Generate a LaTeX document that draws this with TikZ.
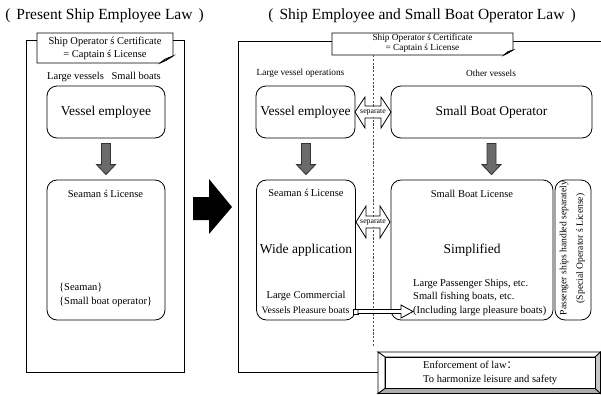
\documentclass[tikz,border=0pt]{standalone}
\usepackage{fontspec}
\setmainfont{Liberation Serif}
\newfontfamily\cjk{Noto Sans CJK SC}
\usetikzlibrary{calc}
\begin{document}
\begin{tikzpicture}[x=1pt,y=-1pt,
  frame/.style={draw, line width=0.8pt},
  box/.style={draw, rounded corners=10pt, line width=0.8pt, inner sep=0},
  note/.style={draw, fill=white, line width=0.8pt},
  txt/.style={inner sep=0, font=\fontsize{10.5}{12.6}\selectfont},
  small/.style={inner sep=0, font=\fontsize{9.3}{11}\selectfont},
  big/.style={inner sep=0, font=\fontsize{13.5}{16}\selectfont},
  ttl/.style={inner sep=0, font=\fontsize{15.5}{18}\selectfont},
  garrow/.style={draw=black!80, fill=black!58, line width=0.8pt},
  sep/.style={draw, fill=white, line width=0.8pt},
  septxt/.style={inner sep=0.3pt, fill=white, minimum height=10.5pt, font=\fontsize{7.8}{8}\selectfont},
  dots/.style={draw=black!70, line width=1.3pt, dash pattern=on 2.2pt off 1.6pt}]
\useasboundingbox (0,0) rectangle (601,394);

% titles
\node[ttl] (t1) at (104.5,16) {(\hspace{6pt}Present Ship Employee Law\hspace{6pt})};
\node[ttl] (t2) at (422,16) {(\hspace{6pt}Ship Employee and Small Boat Operator Law\hspace{6pt})};

% frames
\draw[frame] (26,40) rectangle (184,372);
\draw[frame] (605,41) -- (238,41) -- (238,372) -- (378,372);

% left note
\draw[note] (37,33) -- (173,33) -- (173,56) -- (160,63) -- (37,63) -- cycle;
\draw[line width=0.7pt] (160,63) -- (165,59) -- (173,56) -- (166,60.5) -- cycle;
\node[txt] (n1a) at (105,42) {Ship Operator ś Certificate};
\node[txt] (n1b) at (105,55) {= Captain ś License};

% right note
\draw[note] (332,33) -- (513,33) -- (513,50) -- (504,55) -- (332,55) -- cycle;
\draw[line width=0.7pt] (504,55) -- (508,51.5) -- (513,50) -- (508,53) -- cycle;
\node[small] (n2a) at (422.5,38.5) {Ship Operator ś Certificate};
\node[small] (n2b) at (422.5,48.5) {= Captain ś License};

% left column
\node[txt] (lv) at (104,77) {Large vessels\hspace{5pt} Small boats};
\node[box, minimum width=118, minimum height=52] (ve1) at (106,112) {};
\node[big] (ve1t) at (106,112) {Vessel employee};
\node[box, minimum width=118, minimum height=140] (sl1) at (106,250) {};
\node[txt] (sl1t) at (105.5,194) {Seaman ś License};
\node[txt, anchor=west] (sl1a) at (59,288) {\{Seaman\}};
\node[txt, anchor=west] (sl1b) at (59,302) {\{Small boat operator\}};
\draw[garrow] let \p1=($(ve1.south)+(0,5)$), \p2=($(sl1.north)+(0,-5)$) in
  (\x1-4.5pt,\y1) -- (\x1+4.5pt,\y1) -- (\x1+4.5pt,\y2+10pt) -- (\x1+9.5pt,\y2+10pt)
  -- (\x1,\y2) -- (\x1-9.5pt,\y2+10pt) -- (\x1-4.5pt,\y2+10pt) -- cycle;

% big black arrow
\fill (193,197) -- (209,197) -- (209,179) -- (232,207) -- (209,234) -- (209,220) -- (193,220) -- cycle;

% right column headers
\node[small] (lvo) at (300.5,73) {Large vessel operations};
\node[small] (ov) at (491,73) {Other vessels};

% separate arrows (shapes) then dotted line
\draw[sep] (355,112) -- (365,97) -- (365,106) -- (381,106) -- (381,97) -- (391,112)
  -- (381,128) -- (381,118) -- (365,118) -- (365,128) -- cycle;
\draw[sep] (356,222) -- (366,206) -- (366,216) -- (380,216) -- (380,206) -- (390,222)
  -- (380,238) -- (380,228) -- (366,228) -- (366,238) -- cycle;
\coordinate (dtop) at (373.5,55);
\coordinate (dbot) at (373.5,347);
\draw[dots] (dtop) -- (dbot);
\node[septxt] (s1) at (373,112) {separate};
\node[septxt] (s2) at (373,222) {separate};

% right boxes
\node[box, minimum width=99, minimum height=52] (ve2) at (305.5,112) {};
\node[big] (ve2t) at (305.5,112) {Vessel employee};
\node[box, minimum width=201, minimum height=52] (sbo) at (491.5,112) {};
\node[big] (sbot) at (491.5,112) {Small Boat Operator};

\node[box, minimum width=99, minimum height=140] (sl2) at (306,250) {};
\node[txt] (sl2t) at (306,193) {Seaman ś License};
\node[big] (sl2w) at (306,250) {Wide application};
\node[txt] (sl2a) at (306,296) {Large Commercial};
\node[txt, font=\fontsize{9.8}{12}\selectfont] (sl2b) at (305.5,310) {Vessels Pleasure boats};

\node[box, minimum width=162, minimum height=140] (sbl) at (472,250) {};
\node[txt] (sblt) at (472,194) {Small Boat License};
\node[big] (sbls) at (472,250) {Simplified};
\node[txt, anchor=west] (sbla) at (413,284) {Large Passenger Ships, etc.};
\node[txt, anchor=west] (sblb) at (413,297) {Small fishing boats, etc.};
\node[txt, anchor=west] (sblc) at (413,311) {(Including large pleasure boats)};

\node[box, minimum width=36, minimum height=140] (pas) at (573,250) {};
\node[txt, font=\fontsize{9.6}{12}\selectfont, rotate=90] (pasa) at (564,248) {Passenger ships handled separately};
\node[txt, font=\fontsize{9.6}{12}\selectfont, rotate=90] (pasb) at (580.5,248.5) {(Special Operator ś License)};

\draw[garrow] let \p1=($(ve2.south)+(0.5,5)$), \p2=($(sl2.north)+(0,-5)$) in
  (\x1-4.5pt,\y1) -- (\x1+4.5pt,\y1) -- (\x1+4.5pt,\y2+10pt) -- (\x1+9.5pt,\y2+10pt)
  -- (\x1,\y2) -- (\x1-9.5pt,\y2+10pt) -- (\x1-4.5pt,\y2+10pt) -- cycle;
\draw[garrow] let \p1=($(sbo.south)+(0,5)$), \p2=($(sbl.north)+(0,-5)$) in
  (\x1-4.5pt,\y1) -- (\x1+4.5pt,\y1) -- (\x1+4.5pt,\y2+10pt) -- (\x1+9.5pt,\y2+10pt)
  -- (\x1,\y2) -- (\x1-9.5pt,\y2+10pt) -- (\x1-4.5pt,\y2+10pt) -- cycle;

% hollow arrow
\draw[line width=0.8pt, fill=white] (353,309) rectangle (358,314);
\draw[line width=0.8pt, fill=white] (358,309.5) -- (401,309.5) -- (401,305) -- (413,311.5)
  -- (401,318) -- (401,313.5) -- (358,313.5) -- cycle;

% enforcement box (bevelled)
\draw[line width=0.8pt, fill=white] (378,352) -- (600.5,352) -- (595,357) -- (385,357) -- cycle;
\draw[line width=0.8pt, fill=white] (378,352) -- (385,357) -- (385,388.5) -- (378,393.5) -- cycle;
\draw[line width=0.8pt, fill=black!22] (600.5,352) -- (600.5,393.5) -- (595,388.5) -- (595,357) -- cycle;
\draw[line width=0.8pt, fill=black!32] (378,393.5) -- (385,388.5) -- (595,388.5) -- (600.5,393.5) -- cycle;
\draw[line width=0.8pt, fill=white] (385,357) rectangle (595,388.5);
\node[txt, anchor=west] (ea) at (423,365) {Enforcement of law{\cjk ：}};
\node[txt, anchor=west] (eb) at (423,380) {To harmonize leisure and safety};
\end{tikzpicture}
\end{document}
